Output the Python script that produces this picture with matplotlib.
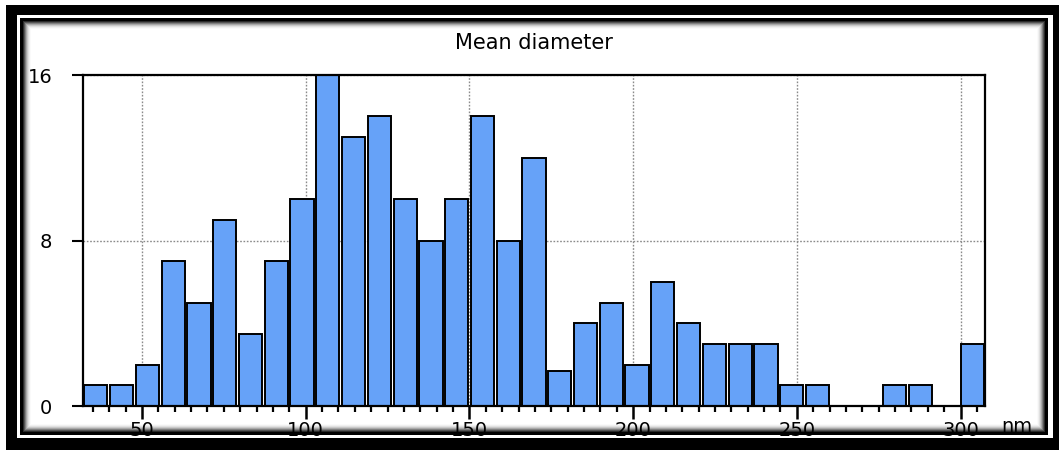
import matplotlib
matplotlib.use("Agg")
import matplotlib.pyplot as plt
from matplotlib.patches import Rectangle
from matplotlib.ticker import MultipleLocator
import numpy as np

# ---- data ----
title = "Mean diameter"
x_unit = "nm"
bin_start = 32.0      # nm, left edge of first bin
bin_width = 7.87      # nm
counts = [1, 1, 2, 7, 5, 9, 3.5, 7, 10, 16, 13, 14, 10, 8, 10, 14, 8, 12,
          1.7, 4, 5, 2, 6, 4, 3, 3, 3, 1, 1, 0, 0, 1, 1, 0, 3]
x_major = [50, 100, 150, 200, 250, 300]
y_ticks = [0, 8, 16]
y_tick_labels = ["0", "8", "16"]

W, H = 1059, 450
fig = plt.figure(figsize=(W / 100, H / 100), dpi=100)
fig.patch.set_facecolor("white")


def add_px_rect(x0, y0, x1, y1, color, z):
    r = Rectangle((x0 / W, 1 - y1 / H), (x1 - x0) / W, (y1 - y0) / H,
                  transform=fig.transFigure, facecolor=color,
                  edgecolor="none", zorder=z)
    fig.add_artist(r)


# outer decorative frame
add_px_rect(6, 5, 1059, 450, "black", -20)
add_px_rect(17, 15, 1053, 438, "white", -19)
add_px_rect(20, 18, 1048, 435, "black", -18)
shades = ["#2a2a2a", "#555555", "#808080", "#a8a8a8", "#c8c8c8", "#e0e0e0",
          "#f0f0f0", "#fafafa", "white"]
for i, c in enumerate(shades):
    d = 3 + i
    add_px_rect(20 + d, 18 + d, 1048 - d, 435 - d, c, -17 + i)

# axes
ax_l, ax_r, ax_t, ax_b = 83, 985, 75, 406
ax = fig.add_axes([ax_l / W, 1 - ax_b / H, (ax_r - ax_l) / W, (ax_b - ax_t) / H])
ax.set_facecolor("white")

n = len(counts)
edges = bin_start + bin_width * np.arange(n + 1)
centers = (edges[:-1] + edges[1:]) / 2
ax.bar(centers, counts, width=bin_width * 0.9, color="#66A2F8",
       edgecolor="black", linewidth=1.4, zorder=3)

ax.set_xlim(edges[0], edges[-1])
ax.set_ylim(0, 16)

ax.set_xticks(x_major)
ax.xaxis.set_minor_locator(MultipleLocator(5))
ax.set_yticks(y_ticks)
ax.set_yticklabels(y_tick_labels)

ax.set_axisbelow(True)
ax.grid(True, which="major", axis="both", color="#8a8a8a",
        linestyle=(0, (1.2, 1.2)), linewidth=1.0)

for s in ax.spines.values():
    s.set_linewidth(1.6)
    s.set_color("black")
    s.set_zorder(4)

ax.tick_params(axis="x", which="major", length=9, width=1.8, direction="out",
               pad=2, labelsize=14, colors="black")
ax.tick_params(axis="x", which="minor", length=4.5, width=1.6, direction="out")
ax.tick_params(axis="y", which="major", length=8, width=1.5, direction="out",
               pad=14, labelsize=14, colors="black")

ax.set_title(title, fontsize=15, pad=19, color="black")
fig.text(1017 / W, 1 - 427 / H, x_unit, fontsize=14, ha="center",
         va="center", color="black")

fig.savefig("out.png", dpi=100)
